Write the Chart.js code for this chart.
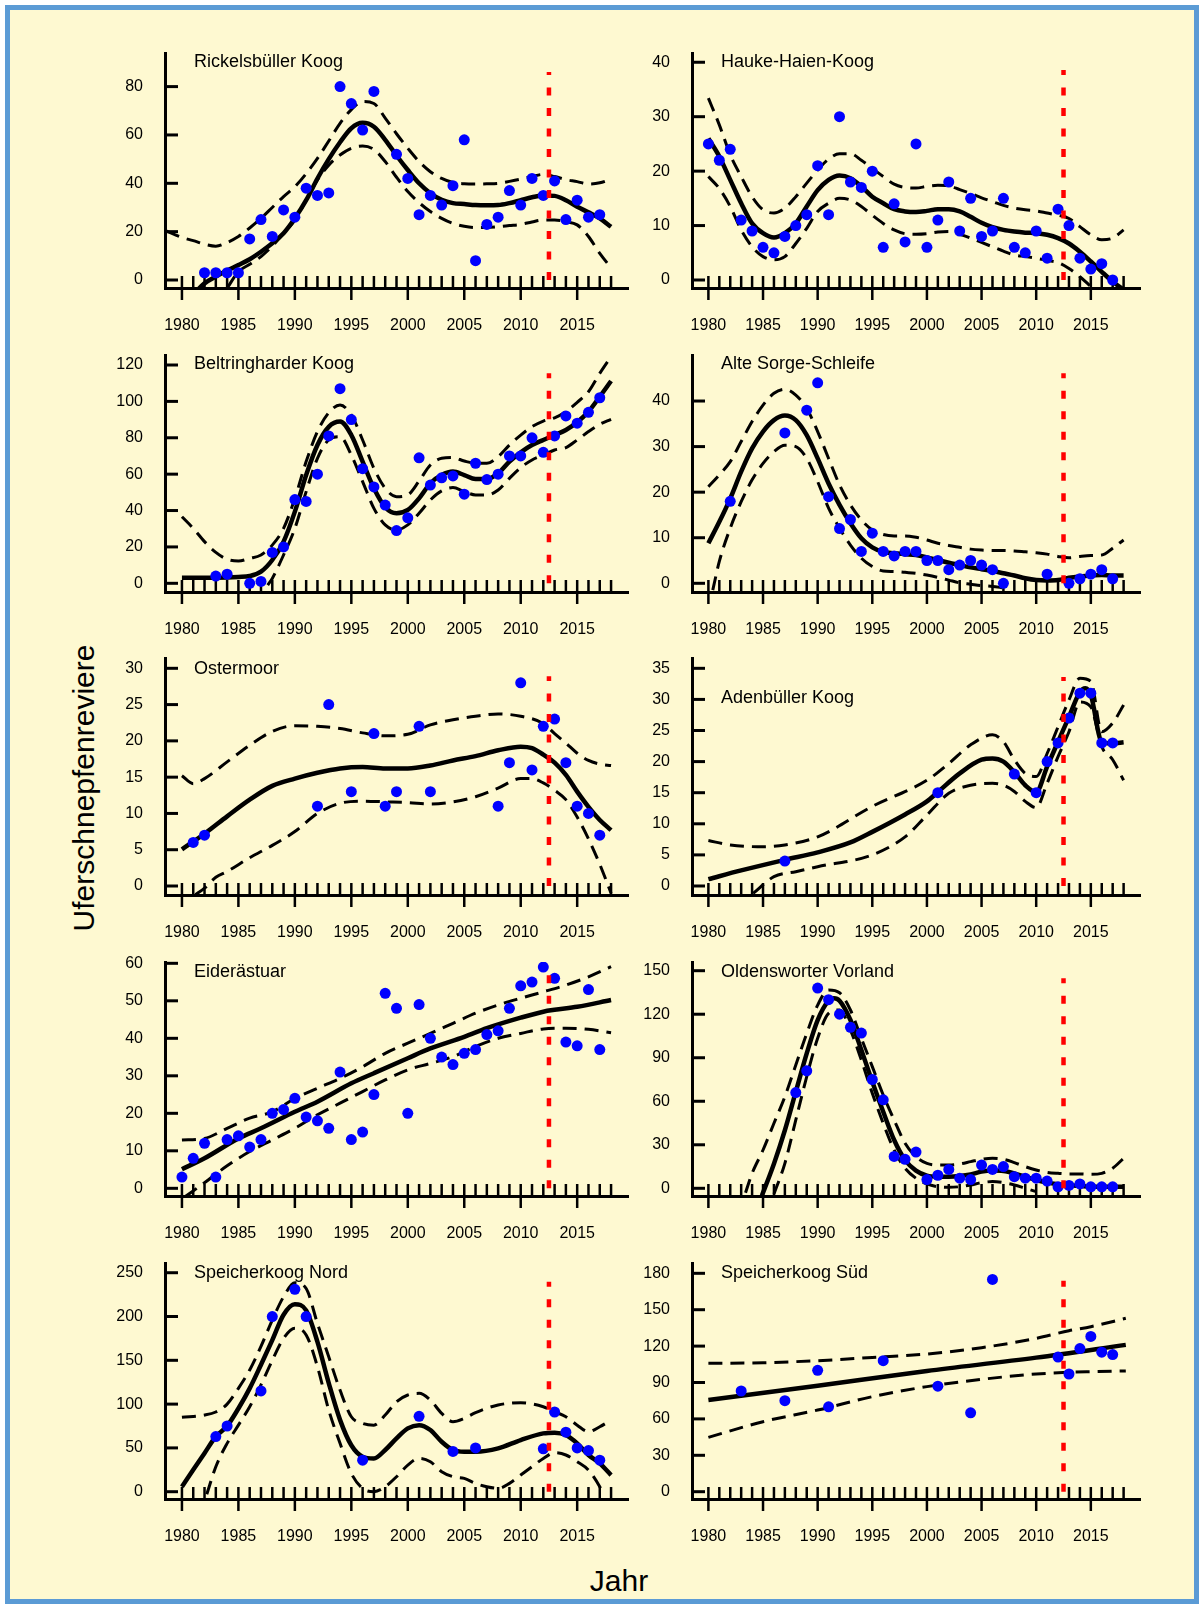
<!DOCTYPE html>
<html>
<head>
<meta charset="utf-8">
<script src="https://cdn.jsdelivr.net/npm/chart.js@4.4.0/dist/chart.umd.min.js"></script>
<style>
  html, body { margin: 0; padding: 0; background: #fff; }
  #frame { position: absolute; left: 5px; top: 5px; width: 1184px; height: 1589px; border: 5px solid #5b9bd5; background: #fef9d1; }
  canvas { position: absolute; }
  .axis-title { position: absolute; font-family: "Liberation Sans", Arial, sans-serif; font-size: 30px; color: #000; white-space: nowrap; line-height: 1; }
  #ytitle { left: 84px; top: 788px; transform: translate(-50%, -50%) rotate(-90deg); }
  #xtitle { left: 619px; top: 1581px; transform: translate(-50%, -50%); }
</style>
</head>
<body>
<div id="frame"></div>
<div class="axis-title" id="ytitle">Uferschnepfenreviere</div>
<div class="axis-title" id="xtitle">Jahr</div>
<script>
// year labels on every x axis
const yearLabels = [1980, 1985, 1990, 1995, 2000, 2005, 2010, 2015];
const splitYear = 2012.5;

// Rickelsbüller Koog
const rickPoints = [[1982,3],[1983,3],[1984,3],[1985,3],[1986,17],[1987,25],[1988,18],[1989,29],[1990,26],[1991,38],[1992,35],[1993,36],[1994,80],[1995,73],[1996,62],[1997,78],[1999,52],[2000,42],[2001,27],[2002,35],[2003,31],[2004,39],[2005,58],[2006,8],[2007,23],[2008,26],[2009,37],[2010,31],[2011,42],[2012,35],[2013,41],[2014,25],[2015,33],[2016,26],[2017,27]];
const rickFit = [[1981,-6],[1982,-1.4],[1983,1.4],[1984,3.9],[1985,6.2],[1986,8.6],[1987,11.7],[1988,15.2],[1989,19.3],[1990,25.5],[1991,33],[1992,42],[1993,50],[1994,57],[1995,62.8],[1996,65],[1997,63.4],[1998,58],[1999,51.5],[2000,45.5],[2001,40],[2002,35.9],[2003,33.2],[2004,31.8],[2005,31.4],[2006,31],[2007,30.9],[2008,31],[2009,31.8],[2010,33],[2011,34.2],[2012,35],[2013,34.8],[2014,33],[2015,30.3],[2016,28],[2017,25.5],[2018,22]];
const rickUpper = [[1978.6,20.3],[1980,17.6],[1981,16.3],[1982,14.8],[1983,14],[1984,15.5],[1985,18],[1986,21.5],[1987,25.5],[1988,30],[1989,34.5],[1990,38.6],[1991,44],[1992,50.3],[1993,57.5],[1994,64.8],[1995,70.5],[1996,73.8],[1997,73],[1998,67],[1999,60.5],[2000,54.5],[2001,49],[2002,44.8],[2003,42],[2004,40.3],[2005,39.8],[2006,39.7],[2007,39.8],[2008,40],[2009,40.8],[2010,41.7],[2011,42.8],[2012,43.7],[2013,42.8],[2014,41.5],[2015,40.7],[2016,39.7],[2017,40.2],[2018,41.7]];
const rickLower = [[1984,-3.4],[1985,3.4],[1986,6.5],[1987,9.7],[1988,14],[1989,19.3],[1990,24.8],[1991,33],[1992,41.4],[1993,47.5],[1994,51.7],[1995,54.5],[1996,55.4],[1997,54],[1998,49],[1999,42.5],[2000,36.6],[2001,32],[2002,28.3],[2003,25.5],[2004,23.4],[2005,22.2],[2006,21.7],[2007,21.7],[2008,22],[2009,22.5],[2010,23],[2011,24],[2012,24.8],[2013,24.8],[2014,24.1],[2015,22.8],[2016,18],[2017,11],[2018,5]];

// Hauke-Haien-Koog
const haukePoints = [[1980,25],[1981,22],[1982,24],[1983,11],[1984,9],[1985,6],[1986,5],[1987,8],[1988,10],[1989,12],[1990,21],[1991,12],[1992,30],[1993,18],[1994,17],[1995,20],[1996,6],[1997,14],[1998,7],[1999,25],[2000,6],[2001,11],[2002,18],[2003,9],[2004,15],[2005,8],[2006,9],[2007,15],[2008,6],[2009,5],[2010,9],[2011,4],[2012,13],[2013,10],[2014,4],[2015,2],[2016,3],[2017,0]];
const haukeFit = [[1980,26],[1981,22.7],[1982,18.4],[1983,14.1],[1984,10.4],[1985,8.6],[1986,7.8],[1987,8.6],[1988,10.4],[1989,13.5],[1990,16.5],[1991,18.4],[1992,19.2],[1993,18.7],[1994,17.2],[1995,15.3],[1996,14.1],[1997,13],[1998,12.6],[1999,12.5],[2000,12.7],[2001,13],[2002,13],[2003,12.6],[2004,11.6],[2005,10.5],[2006,9.7],[2007,9.2],[2008,8.9],[2009,8.7],[2010,8.6],[2011,8.3],[2012,7.7],[2013,6.7],[2014,5.2],[2015,3.4],[2016,1.5],[2017,-0.3],[2018,-1.8]];
const haukeUpper = [[1980,33.4],[1981,28.5],[1982,23],[1983,19],[1984,15.3],[1985,12.9],[1986,12.3],[1987,13.2],[1988,15.3],[1989,17.8],[1990,20.2],[1991,22.2],[1992,23.2],[1993,23.2],[1994,22],[1995,20.5],[1996,19],[1997,17.6],[1998,17],[1999,16.9],[2000,17.2],[2001,17.4],[2002,17.3],[2003,16.6],[2004,15.9],[2005,15.1],[2006,14.4],[2007,13.7],[2008,13.2],[2009,12.9],[2010,12.7],[2011,12.3],[2012,11.9],[2013,11.3],[2014,9.8],[2015,8.3],[2016,7.4],[2017,7.7],[2018,9.2]];
const haukeLower = [[1980,19],[1981,16.8],[1982,13.5],[1983,9.2],[1984,6.1],[1985,4.3],[1986,3.7],[1987,4.3],[1988,6.7],[1989,9.5],[1990,12.6],[1991,14.1],[1992,15],[1993,14.7],[1994,13.5],[1995,11.9],[1996,10.4],[1997,9.2],[1998,8.5],[1999,8.4],[2000,8.5],[2001,8.8],[2002,8.9],[2003,8.4],[2004,7.7],[2005,6.9],[2006,6.1],[2007,5.3],[2008,4.6],[2009,4.3],[2010,4],[2011,3.6],[2012,3.2],[2013,2.1],[2014,0.6],[2015,-1.2],[2016,-3]];

// Beltringharder Koog
const beltPoints = [[1983,4],[1984,5],[1986,0],[1987,1],[1988,17],[1989,20],[1990,46],[1991,45],[1992,60],[1993,81],[1994,107],[1995,90],[1996,63],[1997,53],[1998,43],[1999,29],[2000,36],[2001,69],[2002,54],[2003,58],[2004,59],[2005,49],[2006,66],[2007,57],[2008,60],[2009,70],[2010,70],[2011,80],[2012,72],[2013,81],[2014,92],[2015,88],[2016,94],[2017,102]];
const beltFit = [[1980,3],[1982,3],[1984,3.2],[1985,3.5],[1986,4],[1987,6.4],[1988,12.8],[1989,22.9],[1990,39.4],[1991,59.5],[1992,76],[1993,86],[1994,88.9],[1995,81.5],[1996,66.9],[1997,52.2],[1998,41.8],[1999,38.5],[2000,40.3],[2001,46.7],[2002,55],[2003,59.5],[2004,61.4],[2005,59.5],[2006,57.3],[2007,57.3],[2008,60.5],[2009,66.9],[2010,72],[2011,76],[2012,78.8],[2013,81.5],[2014,84.3],[2015,88.5],[2016,94.4],[2017,102.6],[2018,111.2]];
const beltUpper = [[1980,36.6],[1981,30.2],[1982,22.9],[1983,17],[1984,13.2],[1985,12.3],[1986,13.7],[1987,15.6],[1988,21],[1989,30.2],[1990,46.7],[1991,66.9],[1992,83.4],[1993,93.8],[1994,98],[1995,92.5],[1996,78.8],[1997,63.2],[1998,52.2],[1999,47.6],[2000,48.6],[2001,56.2],[2002,65],[2003,68.7],[2004,69.1],[2005,67.2],[2006,66],[2007,66],[2008,69.6],[2009,76],[2010,81.5],[2011,86.1],[2012,89.2],[2013,91],[2014,94.4],[2015,99.5],[2016,105.3],[2017,115.4],[2018,124.6]];
const beltLower = [[1987.6,-1],[1988,2.7],[1989,15.6],[1990,30.2],[1991,50.4],[1992,68.7],[1993,78.8],[1994,80.6],[1995,70.5],[1996,55.9],[1997,41.2],[1998,32.1],[1999,29.3],[2000,32.1],[2001,38.5],[2002,45.8],[2003,50.8],[2004,52.6],[2005,50.4],[2006,48.6],[2007,48.6],[2008,51.3],[2009,57.7],[2010,63.6],[2011,67.8],[2012,70.5],[2013,73.3],[2014,74.6],[2015,78.8],[2016,83.4],[2017,87.4],[2018,90.1]];

// Alte Sorge-Schleife
const sorgePoints = [[1982,18],[1987,33],[1989,38],[1990,44],[1991,19],[1992,12],[1993,14],[1994,7],[1995,11],[1996,7],[1997,6],[1998,7],[1999,7],[2000,5],[2001,5],[2002,3],[2003,4],[2004,5],[2005,4],[2006,3],[2007,0],[2011,2],[2013,0],[2014,1],[2015,2],[2016,3],[2017,1]];
const sorgeFit = [[1980,8.8],[1981,13.5],[1982,18.6],[1983,24.5],[1984,29.6],[1985,33.3],[1986,35.8],[1987,36.8],[1988,35.8],[1989,32.5],[1990,27.4],[1991,21.9],[1992,17.2],[1993,13.2],[1994,9.9],[1995,7.9],[1996,6.9],[1997,6.6],[1998,6.4],[1999,6.2],[2000,5.7],[2001,5.1],[2002,4.5],[2003,4],[2004,3.5],[2005,3.1],[2006,2.7],[2007,2.2],[2008,1.7],[2009,1.1],[2010,0.7],[2011,0.6],[2012,0.7],[2013,1.2],[2014,1.5],[2015,1.7],[2016,1.8],[2017,1.7],[2018,1.7]];
const sorgeUpper = [[1980,21.2],[1981,23.8],[1982,26.7],[1983,31.1],[1984,35.5],[1985,39.1],[1986,41.7],[1987,42.6],[1988,41.3],[1989,38.4],[1990,33.3],[1991,27.4],[1992,21.6],[1993,17.2],[1994,13.9],[1995,11.7],[1996,10.7],[1997,10.4],[1998,10.4],[1999,10.1],[2000,9.5],[2001,8.8],[2002,8.3],[2003,7.9],[2004,7.5],[2005,7.3],[2006,7.2],[2007,7.2],[2008,7.1],[2009,6.9],[2010,6.7],[2011,6.4],[2012,5.9],[2013,5.6],[2014,5.9],[2015,6.1],[2016,6.2],[2017,7.7],[2018,9.5]];
const sorgeLower = [[1980.4,-1.5],[1981,4.8],[1982,12.1],[1983,17.9],[1984,22.7],[1985,26.3],[1986,28.9],[1987,30.3],[1988,30],[1989,27.4],[1990,22.3],[1991,16.5],[1992,12.1],[1993,8.4],[1994,5.5],[1995,3.7],[1996,2.7],[1997,2.6],[1998,2.4],[1999,2.2],[2000,1.8],[2001,1.3],[2002,0.7],[2003,0.1],[2004,-0.2],[2005,-0.5],[2006,-0.7],[2007,-1]];

// Ostermoor
const osterPoints = [[1981,6],[1982,7],[1992,11],[1993,25],[1995,13],[1997,21],[1998,11],[1999,13],[2001,22],[2002,13],[2008,11],[2009,17],[2010,28],[2011,16],[2012,22],[2013,23],[2014,17],[2015,11],[2016,10],[2017,7]];
const osterFit = [[1980,5.05],[1982,7.2],[1984,9.6],[1986,11.9],[1988,13.8],[1990,14.8],[1992,15.6],[1994,16.2],[1996,16.4],[1998,16.2],[2000,16.2],[2002,16.6],[2004,17.3],[2006,17.9],[2008,18.7],[2010,19.2],[2011,19],[2012,18.1],[2013,17],[2014,15.3],[2015,13],[2016,10.9],[2017,9.1],[2018,7.7]];
const osterUpper = [[1980,15.2],[1981,14.1],[1982,14.8],[1984,17.1],[1986,19.4],[1988,21.3],[1990,22.1],[1992,22],[1994,21.7],[1996,21.1],[1998,20.7],[2000,20.9],[2002,22.2],[2004,22.9],[2006,23.4],[2008,23.7],[2010,23.4],[2012,22.4],[2013,21],[2014,19.7],[2015,18.3],[2016,17.3],[2017,16.8],[2018,16.6]];
const osterLower = [[1981.2,-1.2],[1982,-0.3],[1983,1.2],[1984,2],[1986,3.9],[1988,5.6],[1990,7.5],[1992,10],[1994,11.4],[1996,11.7],[1998,11.6],[2000,11.5],[2002,11.3],[2004,11.6],[2006,12.3],[2008,13.5],[2010,14.8],[2011,14.8],[2012,14.2],[2013,13.2],[2014,11.9],[2015,9.5],[2016,6.5],[2017,3],[2018,-1]];

// Adenbüller Koog
const adenPoints = [[1987,4],[2001,15],[2008,18],[2010,15],[2011,20],[2012,23],[2013,27],[2014,31],[2015,31],[2016,23],[2017,23]];
const adenFit = [[1980,1.1],[1983,2.5],[1987,4.2],[1990,5.4],[1993,7],[1995,8.7],[1998,11.5],[2000,13.6],[2001,15.1],[2003,18.1],[2005,20.3],[2006,20.5],[2007,20],[2008,18.3],[2009,16.2],[2010,15.1],[2011,19.2],[2012,23.2],[2013,27.2],[2014,31.2],[2014.5,31.8],[2015,30.7],[2016,23.2],[2017,22.9],[2018,23.1]];
const adenUpper = [[1980,7.3],[1982,6.6],[1985,6.3],[1987,6.6],[1990,7.9],[1995,12.8],[2000,17],[2002,19.7],[2004,22.7],[2006,24.3],[2007,23.2],[2008,20.3],[2009,18.1],[2010,17.6],[2011,21.3],[2012,25.6],[2013,29.9],[2014,33.4],[2015,32.9],[2016,24.8],[2017,26.2],[2018,29.1]];
const adenLower = [[1984.1,-1.2],[1986,1.5],[1988,2.3],[1990,3.1],[1995,5],[1998,7.9],[2000,11.4],[2002,14.9],[2004,16.2],[2006,16.5],[2007,16.2],[2008,15.2],[2009,13.6],[2010,12.6],[2011,16.5],[2012,20.8],[2013,24.8],[2014,29.6],[2015,28.8],[2016,22.4],[2017,20.3],[2018,17]];

// Eiderästuar
const eiderPoints = [[1980,3],[1981,8],[1982,12],[1983,3],[1984,13],[1985,14],[1986,11],[1987,13],[1988,20],[1989,21],[1990,24],[1991,19],[1992,18],[1993,16],[1994,31],[1995,13],[1996,15],[1997,25],[1998,52],[1999,48],[2000,20],[2001,49],[2002,40],[2003,35],[2004,33],[2005,36],[2006,37],[2007,41],[2008,42],[2009,48],[2010,54],[2011,55],[2012,59],[2013,56],[2014,39],[2015,38],[2016,53],[2017,37]];
const eiderFit = [[1980,5.1],[1982,8],[1985,13.3],[1987,16],[1990,20.4],[1992,23.1],[1995,28],[1997,30.7],[2000,34.7],[2002,37.3],[2005,40.4],[2007,42.7],[2010,45.5],[2012,47.1],[2013,47.6],[2015,48.4],[2018,50.2]];
const eiderUpper = [[1980,12.9],[1982,13.3],[1984,16],[1986,18.7],[1988,20.4],[1990,24],[1992,26.7],[1994,29.3],[1996,32.4],[1998,36],[2000,38.7],[2002,41.3],[2004,44],[2006,46.7],[2008,48.9],[2010,50.7],[2012,52.4],[2014,54.2],[2016,56.4],[2018,59.1]];
const eiderLower = [[1980.3,-2.2],[1982,1.5],[1984,6],[1986,9.8],[1988,12.9],[1990,16],[1992,19.6],[1994,22.7],[1996,25.8],[1998,28.9],[2000,31.6],[2002,33.3],[2004,35.1],[2006,37.8],[2008,40],[2010,41.3],[2012,42.5],[2014,42.7],[2016,42.4],[2018,41.5]];

// Oldensworter Vorland
const oldenPoints = [[1988,66],[1989,81],[1990,138],[1991,130],[1992,120],[1993,111],[1994,107],[1995,75],[1996,61],[1997,22],[1998,20],[1999,25],[2000,6],[2001,9],[2002,13],[2003,7],[2004,6],[2005,16],[2006,13],[2007,15],[2008,8],[2009,7],[2010,7],[2011,5],[2012,1],[2013,2],[2014,3],[2015,1],[2016,1],[2017,1]];
const oldenFit = [[1984.9,-5],[1986,17],[1987,40],[1988,66.6],[1989,93],[1990,116],[1991,129.3],[1991.5,131],[1992,129.3],[1993,116],[1994,95.3],[1995,73.5],[1996,52.8],[1997,33.3],[1998,19.5],[1999,12.2],[2000,8.7],[2001,8],[2002,8],[2003,8.5],[2004,9.6],[2005,11.5],[2006,12.2],[2007,11.9],[2008,10.3],[2009,8],[2010,5.7],[2011,3.9],[2012,2.8],[2013,2.1],[2014,1.6],[2015,1.1],[2016,1.1],[2017,1.1],[2018,1.1]];
const oldenUpper = [[1983.4,-3],[1984,10.3],[1985,26.4],[1986,44.8],[1987,63.2],[1988,85],[1989,106.8],[1990,126.3],[1991,136.7],[1992,134.8],[1993,122.9],[1994,103.4],[1995,83.9],[1996,64.3],[1997,47.1],[1998,31],[1999,21.8],[2000,17.2],[2001,16.1],[2002,16.1],[2003,16.8],[2004,18.4],[2005,20],[2006,20.7],[2007,20],[2008,17.7],[2009,14.9],[2010,12.6],[2011,11],[2012,10.3],[2013,9.9],[2014,9.9],[2015,9.6],[2016,10.3],[2017,13.8],[2018,20.7]];
const oldenLower = [[1986,-4],[1987,17.2],[1988,47.1],[1989,77],[1990,103.4],[1991,120.6],[1992,122.9],[1993,109.1],[1994,88.4],[1995,65.5],[1996,44.8],[1997,26.4],[1998,13.8],[1999,6.9],[2000,3],[2001,1.1],[2002,0.7],[2003,1.1],[2004,2.3],[2005,3.9],[2006,4.6],[2007,3.9],[2008,2.3],[2009,0],[2010,-2.3]];

// Speicherkoog Nord
const spNordPoints = [[1983,63],[1984,75],[1987,115],[1988,200],[1990,231],[1991,200],[1996,36],[2001,86],[2004,46],[2006,50],[2012,49],[2013,91],[2014,68],[2015,50],[2016,47],[2017,36]];
const spNordFit = [[1980,5.7],[1981,25],[1982,44],[1983,63],[1984,75],[1985,95],[1986,118],[1987,145],[1988,173],[1989,202],[1990,214],[1991,207],[1992,171],[1993,124],[1994,82],[1995,53],[1996,40],[1997,38],[1998,47.6],[1999,60.9],[2000,72.3],[2001,76],[2002,70.4],[2003,57],[2004,47.6],[2005,45.7],[2006,45.7],[2008,49.5],[2010,59],[2012,66.6],[2013,67.4],[2014,64.7],[2015,55.2],[2016,41.9],[2017,32.3],[2018,19]];
const spNordUpper = [[1980,84.9],[1982,87.5],[1983,91],[1984,100],[1985,118],[1986,139],[1987,166],[1988,196],[1989,222.6],[1990,238.6],[1991,232],[1992,192],[1993,154],[1994,116],[1995,85.6],[1996,78],[1997,76],[1998,87.5],[1999,102.7],[2000,110.4],[2001,112.3],[2002,104.6],[2003,89.4],[2004,79.9],[2005,83.7],[2006,90.2],[2008,99],[2010,101.6],[2012,97],[2013,91.3],[2014,85.6],[2015,76],[2016,68.5],[2017,74.2],[2018,81.8]];
const spNordLower = [[1982.2,-3],[1983,28.5],[1984,55.2],[1985,76],[1986,97],[1987,122],[1988,150],[1989,175],[1990,186.5],[1991,179],[1992,142.7],[1993,93.2],[1994,55.2],[1995,20.9],[1996,3.8],[1997,0],[1998,5.7],[1999,17.1],[2000,30.4],[2001,38],[2002,34.2],[2003,22.8],[2004,17.1],[2005,15.2],[2006,9.5],[2007,5.7],[2008,3.8],[2009,9.5],[2010,19],[2011,28.5],[2012,38],[2013,44.5],[2014,41.9],[2015,34.2],[2016,24.7],[2017,5.7],[2017.3,-2]];

// Speicherkoog Süd
const spSuedPoints = [[1983,83],[1987,75],[1990,100],[1991,70],[1996,108],[2001,87],[2004,65],[2006,175],[2012,111],[2013,97],[2014,118],[2015,128],[2016,115],[2017,113]];
const spSuedFit = [[1980,75.5],[1990,87.4],[2000,99.5],[2010,110.5],[2018.2,121]];
const spSuedUpper = [[1980,105.8],[1985,106.3],[1990,108],[1995,110.7],[2000,113.5],[2005,118.7],[2010,126.4],[2013,132.7],[2015,136],[2018.2,142.9]];
const spSuedLower = [[1980,44.8],[1985,57.7],[1990,67.3],[1995,78.3],[2000,86.6],[2005,92.6],[2010,97],[2013,98.4],[2015,98.9],[2018.2,99.5]];

// y tick labels
const ticksRick = [0, 20, 40, 60, 80];
const ticksHauke = [0, 10, 20, 30, 40];
const ticksBelt = [0, 20, 40, 60, 80, 100, 120];
const ticksSorge = [0, 10, 20, 30, 40];
const ticksOster = [0, 5, 10, 15, 20, 25, 30];
const ticksAden = [0, 5, 10, 15, 20, 25, 30, 35];
const ticksEider = [0, 10, 20, 30, 40, 50, 60];
const ticksOlden = [0, 30, 60, 90, 120, 150];
const ticksSpNord = [0, 50, 100, 150, 200, 250];
const ticksSpSued = [0, 30, 60, 90, 120, 150, 180];

const panels = [
  { title: "Rickelsbüller Koog", col: 0, row: 0, yMin: -3.31, yMax: 93.9, yTicks: ticksRick, redTop: 86, titleDy: 9, points: rickPoints, fit: rickFit, upper: rickUpper, lower: rickLower },
  { title: "Hauke-Haien-Koog", col: 1, row: 0, yMin: -1.47, yMax: 41.7, yTicks: ticksHauke, redTop: 38.6, titleDy: 9, points: haukePoints, fit: haukeFit, upper: haukeUpper, lower: haukeLower },
  { title: "Beltringharder Koog", col: 0, row: 1, yMin: -4.78, yMax: 125.5, yTicks: ticksBelt, redTop: 115.4, titleDy: 9.3, points: beltPoints, fit: beltFit, upper: beltUpper, lower: beltLower },
  { title: "Alte Sorge-Schleife", col: 1, row: 1, yMin: -1.91, yMax: 50.1, yTicks: ticksSorge, redTop: 46.1, titleDy: 9.3, points: sorgePoints, fit: sorgeFit, upper: sorgeUpper, lower: sorgeLower },
  { title: "Ostermoor", col: 0, row: 2, yMin: -1.24, yMax: 31.42, yTicks: ticksOster, redTop: 28.9, titleDy: 11.3, points: osterPoints, fit: osterFit, upper: osterUpper, lower: osterLower },
  { title: "Adenbüller Koog", col: 1, row: 2, yMin: -1.45, yMax: 36.66, yTicks: ticksAden, redTop: 33.6, titleDy: 40.3, points: adenPoints, fit: adenFit, upper: adenUpper, lower: adenLower },
  { title: "Eiderästuar", col: 0, row: 3, yMin: -2.05, yMax: 60.35, yTicks: ticksEider, redTop: 59.8, titleDy: 9.7, points: eiderPoints, fit: eiderFit, upper: eiderUpper, lower: eiderLower },
  { title: "Oldensworter Vorland", col: 1, row: 3, yMin: -5.31, yMax: 156, yTicks: ticksOlden, redTop: 144.8, titleDy: 9.7, points: oldenPoints, fit: oldenFit, upper: oldenUpper, lower: oldenLower },
  { title: "Speicherkoog Nord", col: 0, row: 4, yMin: -8.33, yMax: 261.1, yTicks: ticksSpNord, redTop: 239.7, titleDy: 9.7, points: spNordPoints, fit: spNordFit, upper: spNordUpper, lower: spNordLower },
  { title: "Speicherkoog Süd", col: 1, row: 4, yMin: -6.02, yMax: 188.5, yTicks: ticksSpSued, redTop: 173.9, titleDy: 9.7, points: spSuedPoints, fit: spSuedFit, upper: spSuedUpper, lower: spSuedLower },
];

// plot areas (axis lines) in page pixels
const colLeft = [165, 692];
const colRight = [628, 1140];
const rowTop = [53, 355, 658, 962, 1263];
const rowBottom = [288, 592, 895, 1196, 1499];
const padL = 70, padT = 40, padR = 12, padB = 52;
const fontFamily = '"Liberation Sans", Arial, sans-serif';

const toXY = (pairs) => pairs.map(([x, y]) => ({ x: x, y: y }));

// inward ticks, crossing major ticks, panel name
const panelDecor = {
  id: "panelDecor",
  beforeDatasetsDraw(chart, args, opts) {
    const ctx = chart.ctx;
    const xs = chart.scales.x, ys = chart.scales.y;
    const area = chart.chartArea;
    ctx.save();
    ctx.strokeStyle = "#000";
    ctx.lineWidth = 2.5;
    for (let yr = 1980; yr <= 2018; yr++) {
      const px = xs.getPixelForValue(yr);
      ctx.beginPath();
      ctx.moveTo(px, area.bottom - 12);
      ctx.lineTo(px, yr % 5 === 0 ? area.bottom + 12 : area.bottom);
      ctx.stroke();
    }
    ctx.lineWidth = 3;
    opts.yTicks.forEach((v) => {
      const py = ys.getPixelForValue(v);
      ctx.beginPath();
      ctx.moveTo(area.left, py);
      ctx.lineTo(area.left + 13, py);
      ctx.stroke();
    });
    ctx.restore();
  },
  afterDraw(chart, args, opts) {
    const ctx = chart.ctx;
    const area = chart.chartArea;
    ctx.save();
    ctx.fillStyle = "#000";
    ctx.font = "18px " + fontFamily;
    ctx.textBaseline = "middle";
    ctx.textAlign = "left";
    ctx.fillText(opts.title, area.left + 29, area.top + opts.titleDy);
    ctx.restore();
  },
};

panels.forEach((p) => {
  const L = colLeft[p.col], R = colRight[p.col];
  const T = rowTop[p.row], B = rowBottom[p.row];
  const canvas = document.createElement("canvas");
  canvas.width = R - L + padL + padR;
  canvas.height = B - T + padT + padB;
  canvas.style.left = L - padL + "px";
  canvas.style.top = T - padT + "px";
  document.body.appendChild(canvas);

  new Chart(canvas, {
    type: "scatter",
    data: {
      datasets: [
        {
          data: toXY([[splitYear, 0], [splitYear, p.redTop]]),
          showLine: true,
          borderColor: "#ff0000",
          borderWidth: 4.5,
          borderDash: [8, 12.5],
          pointRadius: 0,
          order: 0,
        },
        {
          data: toXY(p.points),
          pointRadius: 5.5,
          pointBackgroundColor: "#0000ff",
          pointBorderWidth: 0,
          showLine: false,
          order: 1,
        },
        {
          data: toXY(p.fit),
          showLine: true,
          borderColor: "#000",
          borderWidth: 4.5,
          pointRadius: 0,
          cubicInterpolationMode: "monotone",
          order: 2,
        },
        {
          data: toXY(p.upper),
          showLine: true,
          borderColor: "#000",
          borderWidth: 3,
          borderDash: [14, 8],
          pointRadius: 0,
          cubicInterpolationMode: "monotone",
          order: 3,
        },
        {
          data: toXY(p.lower),
          showLine: true,
          borderColor: "#000",
          borderWidth: 3,
          borderDash: [14, 8],
          pointRadius: 0,
          cubicInterpolationMode: "monotone",
          order: 3,
        },
      ],
    },
    options: {
      responsive: false,
      animation: false,
      devicePixelRatio: 1,
      layout: { padding: { top: padT, right: padR, left: 0, bottom: 0 } },
      plugins: {
        legend: { display: false },
        tooltip: { enabled: false },
        panelDecor: { title: p.title, titleDy: p.titleDy, yTicks: p.yTicks },
      },
      scales: {
        x: {
          type: "linear",
          min: 1978.5,
          max: 2019.5,
          afterFit: (s) => { s.height = padB; },
          afterBuildTicks: (s) => { s.ticks = yearLabels.map((v) => ({ value: v })); },
          grid: { display: true, drawOnChartArea: false, drawTicks: false },
          border: { display: true, color: "#000", width: 3 },
          ticks: {
            padding: 28,
            color: "#000",
            font: { size: 16, family: fontFamily },
            maxRotation: 0,
            autoSkip: false,
            callback: (v) => String(v),
          },
        },
        y: {
          type: "linear",
          min: p.yMin,
          max: p.yMax,
          afterFit: (s) => { s.width = padL; },
          afterBuildTicks: (s) => { s.ticks = p.yTicks.map((v) => ({ value: v })); },
          grid: { display: true, drawOnChartArea: false, drawTicks: false },
          border: { display: true, color: "#000", width: 3 },
          ticks: {
            padding: 22,
            color: "#000",
            font: { size: 16, family: fontFamily },
            autoSkip: false,
            callback: (v) => String(v),
          },
        },
      },
    },
    plugins: [panelDecor],
  });
});
</script>
</body>
</html>
